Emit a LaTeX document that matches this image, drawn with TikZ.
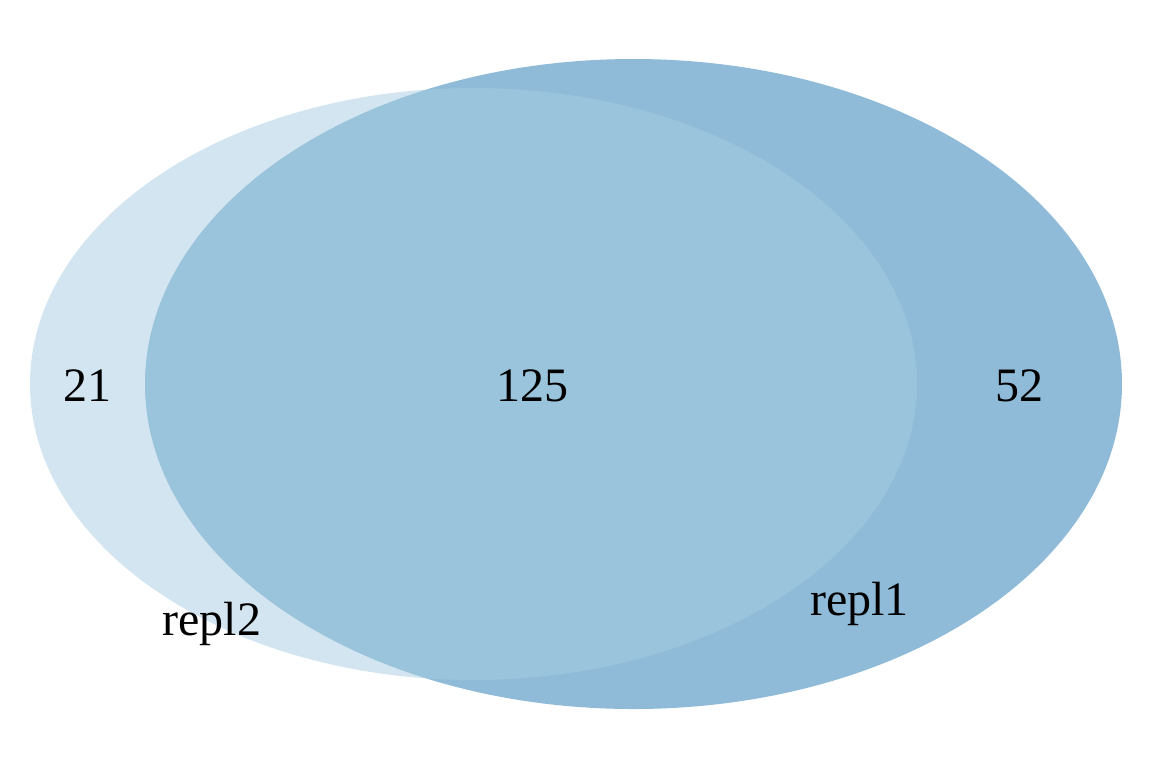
\documentclass[tikz,border=0pt]{standalone}
\usepackage{fontspec}
\setmainfont{Liberation Serif}
\definecolor{setone}{HTML}{8FBBD8}
\definecolor{settwo}{HTML}{A5CBE1}
\tikzstyle{cnum}=[anchor=base, inner sep=0pt, font=\fontsize{24}{28}\selectfont]

\begin{document}
\begin{tikzpicture}[x=0.5pt, y=-0.5pt]
\useasboundingbox (0,0) rectangle (1152,768);

\fill[setone] (633.5,384) ellipse [x radius=488.5, y radius=325];
\fill[settwo, opacity=0.5] (473.5,384) ellipse [x radius=443.5, y radius=296];

\node[cnum] (n21) at (87.5,401) {21};
\node[cnum] (n125) at (532,401) {125};
\node[cnum] (n52) at (1019,401) {52};
\node[cnum] (r2) at (212,635) {repl2};
\node[cnum] (r1) at (859.5,615) {repl1};

\end{tikzpicture}
\end{document}
